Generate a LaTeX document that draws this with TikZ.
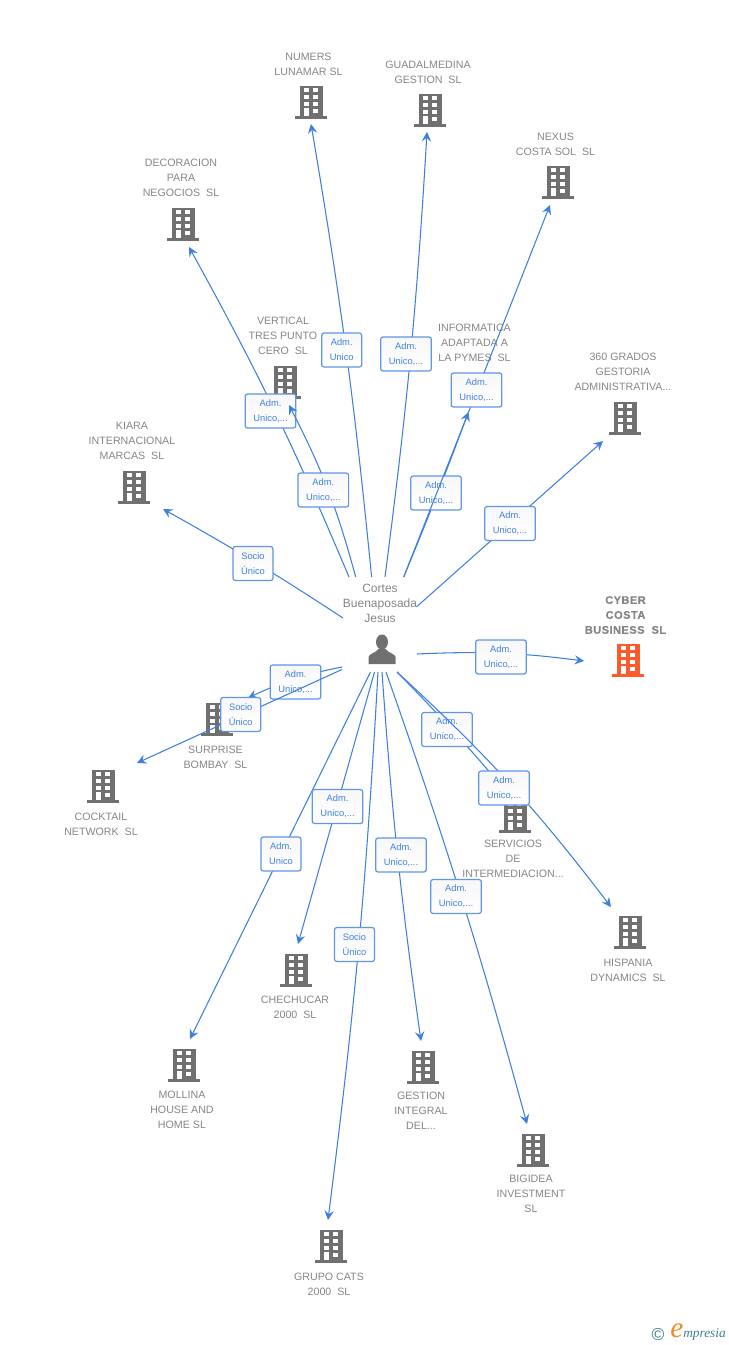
\documentclass[tikz,border=0pt]{standalone}
\usepackage{fontspec}
\setmainfont{Liberation Sans}
\newfontfamily\logofont{Liberation Serif}
\newfontfamily\cyberfont[LetterSpace=4,FakeBold=0.2]{Liberation Sans Bold}
\usetikzlibrary{arrows.meta}

\definecolor{linkBlue}{HTML}{3F80DE}
\definecolor{boxBlue}{HTML}{5F96E6}
\definecolor{iconGray}{HTML}{707070}
\definecolor{textGray}{HTML}{858585}
\definecolor{cyberRed}{HTML}{FF5A2B}
\definecolor{logoTeal}{HTML}{3F7C90}
\definecolor{logoOrange}{HTML}{F08A24}

\tikzset{
    link/.style={draw=linkBlue,line width=0.8pt,-{Stealth[length=7pt,width=7pt,inset=2.5pt]}},
    relbox/.style={draw=boxBlue,line width=0.9pt,rounded corners=1.8pt,top color=black!3,bottom color=white,
        text=linkBlue,font=\fontsize{7}{11.2}\selectfont,align=center,minimum height=25.5pt,inner sep=0pt},
    relwide/.style={relbox,minimum width=38pt},
    relnarrow/.style={relbox,minimum width=30pt},
    company/.style={text=textGray,font=\fontsize{8}{11.2}\selectfont,align=center,inner sep=0pt},
    pics/building/.style={code={
        \fill[#1] (-11.5,-16) rectangle (11.5,14);
        \fill[#1] (-16,13.5) rectangle (16,16.5);
        \foreach \wy in {-12,-5,2}{
            \fill[white] (-7,\wy-2.3) rectangle (-2.4,\wy+2.3);
            \fill[white] (2.4,\wy-2.3) rectangle (7,\wy+2.3);
        }
        \fill[white] (2.4,6.7) rectangle (7,11.3);
        \fill[white] (-7,6) rectangle (-2.4,14);
    }}
}

\begin{document}
\begin{tikzpicture}[x=0.75pt,y=-0.75pt]
\useasboundingbox (0,0) rectangle (728,1345);

% Companies
\pic (bldNumers) at (311,102) {building=iconGray};
\pic (bldGuadal) at (430,110) {building=iconGray};
\pic (bldNexus) at (558,182) {building=iconGray};
\pic (bldDecor) at (183,224) {building=iconGray};
\pic (bldVertical) at (285,382) {building=iconGray};
\pic (bldGrados) at (625,418) {building=iconGray};
\pic (bldKiara) at (134,487) {building=iconGray};
\pic (bldCyber) at (628,660) {building=cyberRed};
\pic (bldSurprise) at (217,719) {building=iconGray};
\pic (bldCocktail) at (103,786) {building=iconGray};
\pic (bldServicios) at (515,816) {building=iconGray};
\pic (bldHispania) at (630,932) {building=iconGray};
\pic (bldChechucar) at (296,970) {building=iconGray};
\pic (bldMollina) at (184,1065) {building=iconGray};
\pic (bldGestion) at (423,1067) {building=iconGray};
\pic (bldBigidea) at (533,1150) {building=iconGray};
\pic (bldGrupo) at (331,1246) {building=iconGray};

\node[company] (numers) at (308.5,64){NUMERS\\LUNAMAR SL};
\node[company] (guadal) at (428,72){GUADALMEDINA\\GESTION\ \ SL};
\node[company] (nexus) at (555.5,144){NEXUS\\COSTA SOL\ \ SL};
\node[company] (decor) at (181,178){DECORACION\\PARA\\NEGOCIOS\ \ SL};
\node[company] (vertical) at (283,336){VERTICAL\\TRES PUNTO\\CERO\ \ SL};
\node[company] (informatica) at (474.5,343){INFORMATICA\\ADAPTADA A\\LA PYMES\ \ SL};
\node[company] (grados) at (623,372){360 GRADOS\\GESTORIA\\ADMINISTRATIVA...};
\node[company] (kiara) at (132,441){KIARA\\INTERNACIONAL\\MARCAS\ \ SL};
\node[company,font=\cyberfont\fontsize{8.3}{11.2}\selectfont] (cyber) at (625.5,615){CYBER\\COSTA\\BUSINESS\ \ SL};
\node[company] (surprise) at (215.5,757){SURPRISE\\BOMBAY\ \ SL};
\node[company] (cocktail) at (101,824){COCKTAIL\\NETWORK\ \ SL};
\node[company] (servicios) at (513,859){SERVICIOS\\DE\\INTERMEDIACION...};
\node[company] (hispania) at (628,970){HISPANIA\\DYNAMICS\ \ SL};
\node[company] (chechucar) at (295,1007){CHECHUCAR\\2000\ \ SL};
\node[company] (mollina) at (182,1110){MOLLINA\\HOUSE AND\\HOME SL};
\node[company] (gestion) at (421,1111){GESTION\\INTEGRAL\\DEL...};
\node[company] (bigidea) at (531,1194){BIGIDEA\\INVESTMENT\\SL};
\node[company] (grupo) at (329,1284){GRUPO CATS\\2000\ \ SL};

% Person in the middle
\node[company,font=\fontsize{9}{11.2}\selectfont] (cortes) at (380,603){Cortes\\Buenaposada\\Jesus};
\fill[iconGray] (382,642) ellipse (6 and 7.5);
\fill[iconGray] (368.5,664) -- (368.5,657) .. controls (369,653.5) and (376,653) .. (378.5,649)
    -- (385.5,649) .. controls (388,653) and (395,653.5) .. (395.5,657) -- (395.5,664) -- cycle;

% Link ends
\coordinate (sDecor) at (349,577);
\coordinate (tDecor) at (189,247);
\coordinate (sVertical) at (355.7,577);
\coordinate (tVertical) at (289,405);
\coordinate (sNumers) at (371.6,577);
\coordinate (tNumers) at (311,124);
\coordinate (sGuadal) at (385,577);
\coordinate (tGuadal) at (427,132);
\coordinate (sInformatica) at (403.7,577);
\coordinate (tInformatica) at (468.5,412);
\coordinate (sNexus) at (403.7,577);
\coordinate (tNexus) at (550,205);
\coordinate (sGrados) at (416.7,606.7);
\coordinate (tGrados) at (603,441);
\coordinate (sKiara) at (343,618);
\coordinate (tKiara) at (163,509);
\coordinate (sCyber) at (417,654);
\coordinate (tCyber) at (584,661);
\coordinate (sSurprise) at (342,667);
\coordinate (tSurprise) at (248,698);
\coordinate (sCocktail) at (342,669.5);
\coordinate (tCocktail) at (137,763);
\coordinate (sMollina) at (370.5,672);
\coordinate (tMollina) at (190,1039);
\coordinate (sChechucar) at (374.5,672);
\coordinate (tChechucar) at (298,944);
\coordinate (sGrupo) at (378,672);
\coordinate (tGrupo) at (328,1220);
\coordinate (sGestion) at (382,672);
\coordinate (tGestion) at (421,1041);
\coordinate (sBigidea) at (386,672);
\coordinate (tBigidea) at (527,1124);
\coordinate (sServicios) at (397,672);
\coordinate (tServicios) at (505,790);
\coordinate (sHispania) at (397,672);
\coordinate (tHispania) at (611,907);

% Links and their boxes
\draw[link] (sDecor) to[bend right=3] (tDecor);
\node[relwide] (relDecor) at (270.5,411){Adm.\\Unico,...};
\draw[link] (sVertical) to[bend right=6] (tVertical);
\node[relwide] (relVertical) at (323.3,490){Adm.\\Unico,...};
\draw[link] (sNumers) to[bend right=2] (tNumers);
\node[relnarrow] (relNumers) at (341.7,350){Adm.\\Unico};
\draw[link] (sGuadal) to[bend right=2] (tGuadal);
\node[relwide] (relGuadal) at (406,354){Adm.\\Unico,...};
\draw[link] (sInformatica) to[bend right=1] (tInformatica);
\node[relwide] (relInformatica) at (436,493){Adm.\\Unico,...};
\draw[link] (sNexus) -- (tNexus);
\node[relwide] (relNexus) at (476.5,390){Adm.\\Unico,...};
\draw[link] (sGrados) -- (tGrados);
\node[relwide] (relGrados) at (510,523.5){Adm.\\Unico,...};
\draw[link] (sKiara) to[bend right=2] (tKiara);
\node[relnarrow] (relKiara) at (253,563.5){Socio\\Único};
\draw[link] (sCyber) to[bend left=5] (tCyber);
\node[relwide] (relCyber) at (501,657){Adm.\\Unico,...};
\draw[link] (sSurprise) to[bend right=7] (tSurprise);
\node[relwide] (relSurprise) at (295.5,682){Adm.\\Unico,...};
\draw[link] (sCocktail) -- (tCocktail);
\node[relnarrow] (relCocktail) at (240.7,714.5){Socio\\Único};
\draw[link] (sServicios) to[bend left=2] (tServicios);
\node[relwide] (relServicios) at (447,729.5){Adm.\\Unico,...};
\draw[link] (sHispania) to[bend left=5] (tHispania);
\node[relwide] (relHispania) at (504,788){Adm.\\Unico,...};
\draw[link] (sMollina) -- (tMollina);
\node[relnarrow] (relMollina) at (281,854){Adm.\\Unico};
\draw[link] (sChechucar) -- (tChechucar);
\node[relwide] (relChechucar) at (337.5,806.5){Adm.\\Unico,...};
\draw[link] (sGrupo) to[bend left=2] (tGrupo);
\node[relnarrow] (relGrupo) at (354.5,944.5){Socio\\Único};
\draw[link] (sGestion) to[bend right=2] (tGestion);
\node[relwide] (relGestion) at (401,855){Adm.\\Unico,...};
\draw[link] (sBigidea) to[bend left=2] (tBigidea);
\node[relwide] (relBigidea) at (456,896.5){Adm.\\Unico,...};

% Logo
\node[text=logoTeal,font=\fontsize{13}{13}\selectfont,inner sep=0pt] (copyr) at (658,1334){©};
\node[text=logoOrange,font=\logofont\itshape\fontsize{22}{22}\selectfont,inner sep=0pt] (logoE) at (677,1331){e};
\node[text=logoTeal,font=\logofont\itshape\fontsize{10}{10}\selectfont,inner sep=0pt,anchor=west] (logoName) at (683,1334.5){mpresia};
\end{tikzpicture}
\end{document}
